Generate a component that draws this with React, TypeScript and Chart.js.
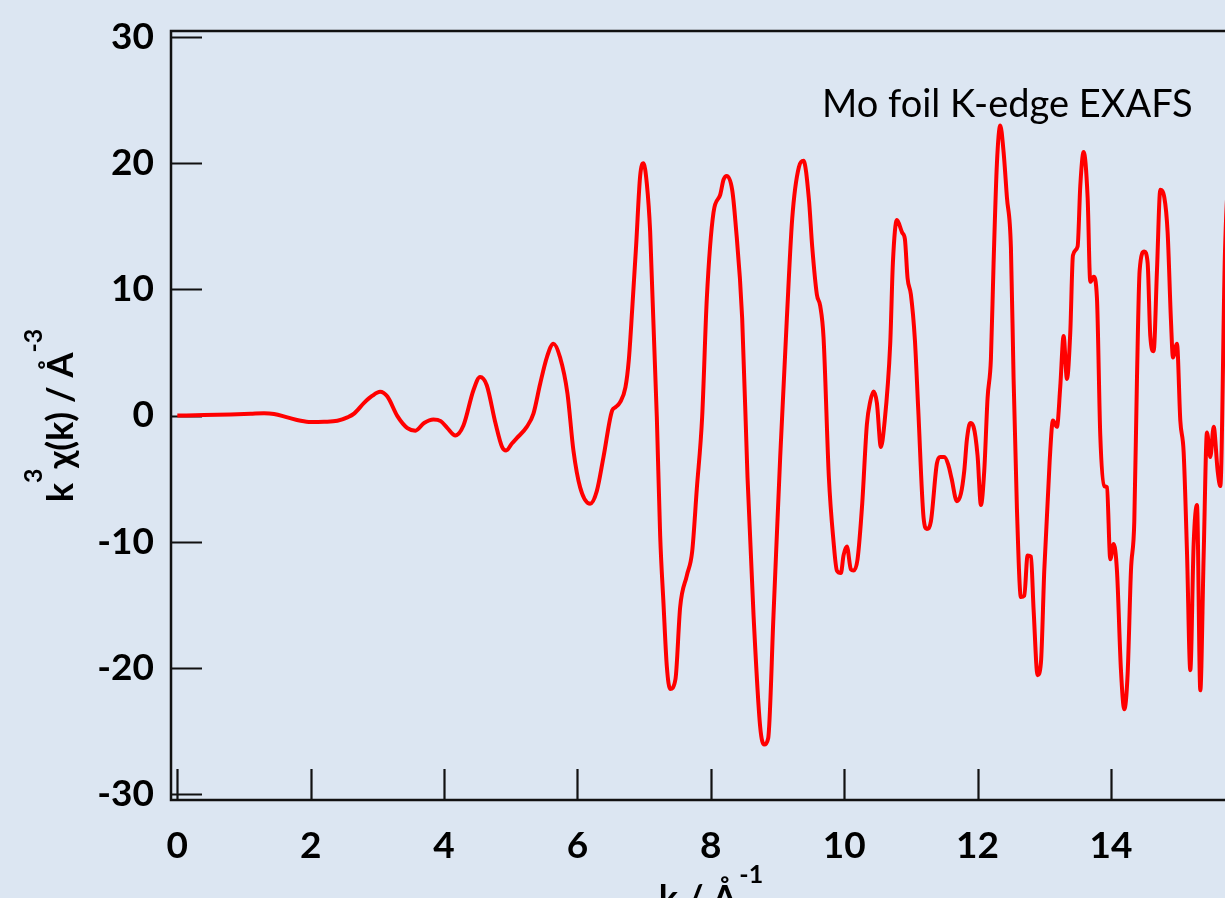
import React, { useEffect, useRef } from "react";
import { Chart, registerables } from "chart.js";

Chart.register(...registerables);

// Photoelectron wavenumber k (Å⁻¹)
const kValues = [
  0.0, 0.4, 0.8, 1.1, 1.3, 1.45, 1.65, 1.85, 2.0, 2.2, 2.4, 2.55, 2.65, 2.8, 2.92,
  3.04, 3.15, 3.3, 3.45, 3.57, 3.7, 3.84, 3.95, 4.05, 4.17, 4.29, 4.44, 4.54, 4.64,
  4.77, 4.87, 4.93, 5.02, 5.09, 5.24, 5.34, 5.44, 5.54, 5.64, 5.74, 5.85, 5.94, 6.04,
  6.19, 6.29, 6.39, 6.52, 6.57, 6.64, 6.72, 6.77, 6.82, 6.88, 6.94, 6.99, 7.04, 7.09,
  7.19, 7.24, 7.29, 7.34, 7.39, 7.47, 7.54, 7.64, 7.72, 7.79, 7.87, 7.94, 8.04, 8.14,
  8.19, 8.24, 8.32, 8.37, 8.47, 8.55, 8.64, 8.74, 8.8, 8.86, 8.94, 9.04, 9.14, 9.22,
  9.32, 9.39, 9.47, 9.52, 9.59, 9.64, 9.69, 9.77, 9.84, 9.89, 9.95, 9.99, 10.04,
  10.1, 10.14, 10.2, 10.27, 10.34, 10.39, 10.44, 10.49, 10.55, 10.6, 10.69, 10.73,
  10.79, 10.87, 10.91, 10.95, 11.0, 11.06, 11.11, 11.19, 11.24, 11.3, 11.39, 11.44,
  11.5, 11.56, 11.61, 11.69, 11.75, 11.8, 11.84, 11.89, 11.94, 12.0, 12.05, 12.1,
  12.15, 12.2, 12.24, 12.29, 12.34, 12.39, 12.44, 12.5, 12.54, 12.59, 12.65, 12.7,
  12.75, 12.8, 12.84, 12.9, 12.95, 13.0, 13.08, 13.13, 13.19, 13.24, 13.29, 13.34,
  13.39, 13.43, 13.5, 13.54, 13.59, 13.65, 13.69, 13.74, 13.79, 13.84, 13.9, 13.94,
  13.99, 14.04, 14.09, 14.15, 14.2, 14.25, 14.3, 14.35, 14.39, 14.43, 14.5, 14.55,
  14.59, 14.64, 14.69, 14.74, 14.8, 14.85, 14.9, 14.93, 14.99, 15.04, 15.09, 15.14,
  15.19, 15.24, 15.29, 15.34, 15.39, 15.44, 15.49, 15.54, 15.6, 15.64, 15.71, 15.76,
  15.82, 15.9, 15.96, 16.0,
];

// k³-weighted EXAFS oscillation k³χ(k) (Å⁻³)
const chiValues = [
  0.0, 0.03, 0.08, 0.14, 0.18, 0.12, -0.15, -0.42, -0.52, -0.5, -0.42, -0.15, 0.15,
  1.0, 1.55, 1.88, 1.5, -0.05, -1.0, -1.2, -0.6, -0.32, -0.45, -1.0, -1.58, -0.8, 2.0,
  3.05, 2.4, -0.6, -2.5, -2.78, -2.2, -1.8, -0.9, 0.15, 2.5, 4.6, 5.7, 4.6, 1.75,
  -2.8, -5.7, -7.0, -6.0, -3.3, 0.4, 0.66, 1.06, 2.25, 4.4, 8.35, 13.5, 19.0, 20.0,
  18.4, 14.6, -0.1, -9.5, -14.9, -19.9, -21.7, -20.9, -15.2, -12.7, -10.8, -5.8, -0.1,
  9.3, 16.1, 17.5, 18.7, 19.0, 17.9, 15.3, 7.7, -4.9, -15.8, -24.7, -26.1, -25.6,
  -15.8, -3.3, 7.7, 15.6, 19.7, 20.2, 17.2, 13.4, 9.6, 8.7, 6.2, -4.9, -10.0, -12.3,
  -12.5, -11.1, -10.4, -12.2, -12.3, -11.4, -7.0, -0.7, 1.1, 1.9, 1.0, -2.5, -0.8, 5.7,
  12.1, 15.5, 14.5, 14.0, 10.9, 9.6, 6.0, 0.5, -8.1, -9.0, -8.4, -3.8, -3.3, -3.3,
  -3.9, -5.0, -6.8, -6.2, -4.4, -1.9, -0.6, -0.9, -3.2, -7.1, -4.4, 1.4, 4.5, 12.1,
  20.0, 23.0, 20.9, 17.3, 13.3, 2.9, -7.4, -14.4, -14.3, -11.1, -11.2, -15.4, -20.6,
  -19.6, -12.3, -3.7, -0.4, -0.9, 2.3, 6.3, 2.9, 6.6, 12.7, 13.4, 18.2, 20.9, 17.3,
  10.6, 11.0, 9.3, -1.6, -5.6, -5.7, -11.4, -10.2, -12.3, -20.2, -23.3, -20.5, -12.3,
  -8.4, 2.9, 11.5, 13.0, 12.1, 6.3, 5.1, 11.5, 17.9, 17.3, 14.5, 7.5, 4.6, 5.7, -0.4,
  -2.9, -10.8, -20.2, -10.2, -7.1, -21.8, -11.1, -1.35, -3.3, -0.9, -4.4, -5.6, 13.0,
  18.0, 10.0, -2.0, 4.0, 6.0,
];

const xTickValues = [0, 2, 4, 6, 8, 10, 12, 14, 16];
const yTickValues = [-30, -20, -10, 0, 10, 20, 30];

const chartCaption = "Mo foil K-edge EXAFS";
const xTitleMain = "k / Å";
const xTitleSup = "-1";
const yTitleParts = [
  { text: "k", sup: false },
  { text: "3", sup: true },
  { text: "χ(k) / Å", sup: false },
  { text: "-3", sup: true },
];

const FONT = "Lato, 'Open Sans', 'DejaVu Sans', sans-serif";
const MAIN_FONT = `bold 36px ${FONT}`;
const SUP_FONT = `bold 25px ${FONT}`;

// Boxed frame plus inward-pointing tick marks, drawn under the curve.
const frameTicksPlugin = {
  id: "frameTicks",
  beforeDatasetsDraw(chart: any) {
    const { ctx, chartArea: a, scales } = chart;
    ctx.save();
    ctx.strokeStyle = "#111";
    ctx.lineWidth = 2.5;
    ctx.strokeRect(a.left, a.top, a.right - a.left, a.bottom - a.top);
    ctx.lineWidth = 2.2;
    ctx.beginPath();
    for (const v of yTickValues) {
      const y = Math.round(scales.y.getPixelForValue(v)) + 0.5;
      ctx.moveTo(a.left, y);
      ctx.lineTo(a.left + 31, y);
    }
    for (const v of xTickValues) {
      const x = Math.round(scales.x.getPixelForValue(v)) + 0.5;
      ctx.moveTo(x, a.bottom);
      ctx.lineTo(x, a.bottom - 31);
    }
    ctx.stroke();
    ctx.restore();
  },
};

// Caption and axis titles with superscripts.
const titlesPlugin = {
  id: "titles",
  afterDraw(chart: any) {
    const { ctx, chartArea: a } = chart;
    ctx.save();
    ctx.fillStyle = "#000";
    ctx.textBaseline = "alphabetic";
    ctx.textAlign = "left";

    // caption inside the plot
    ctx.font = `38px ${FONT}`;
    ctx.fillText(chartCaption, a.left + 651, a.top + 86);

    // x-axis title
    const cx = (a.left + a.right) / 2;
    ctx.font = MAIN_FONT;
    const wMain = ctx.measureText(xTitleMain).width;
    ctx.font = SUP_FONT;
    const wSup = ctx.measureText(xTitleSup).width;
    const x0 = cx - (wMain + wSup + 2) / 2;
    ctx.font = MAIN_FONT;
    ctx.fillText(xTitleMain, x0, a.bottom + 111);
    ctx.font = SUP_FONT;
    ctx.fillText(xTitleSup, x0 + wMain + 2, a.bottom + 83);

    // y-axis title, rotated
    const widths = yTitleParts.map((p) => {
      ctx.font = p.sup ? SUP_FONT : MAIN_FONT;
      return ctx.measureText(p.text).width;
    });
    const total = widths.reduce((s, w) => s + w, 0);
    const cy = (a.top + a.bottom) / 2;
    ctx.translate(73, cy);
    ctx.rotate(-Math.PI / 2);
    let u = -total / 2;
    yTitleParts.forEach((p, i) => {
      ctx.font = p.sup ? SUP_FONT : MAIN_FONT;
      ctx.fillText(p.text, u, p.sup ? -31 : 0);
      u += widths[i];
    });
    ctx.restore();
  },
};

export default function App() {
  const canvasRef = useRef<HTMLCanvasElement | null>(null);

  useEffect(() => {
    const canvas = canvasRef.current;
    if (!canvas) return;
    const points = kValues.map((k, i) => ({ x: k, y: chiValues[i] }));
    const tickFont = { family: FONT, size: 37, weight: "bold" as const };

    const chart = new Chart(canvas, {
      type: "line",
      data: {
        datasets: [
          {
            data: points,
            borderColor: "#ff0000",
            borderWidth: 4,
            pointRadius: 0,
            fill: false,
            cubicInterpolationMode: "monotone",
          },
        ],
      },
      options: {
        responsive: false,
        animation: false,
        devicePixelRatio: 1,
        layout: { padding: { top: 31, right: 49, left: 0, bottom: 0 } },
        plugins: {
          legend: { display: false },
          tooltip: { enabled: false },
          title: { display: false },
        },
        scales: {
          x: {
            type: "linear",
            min: -0.095,
            max: 16.1,
            afterBuildTicks: (s: any) => {
              s.ticks = xTickValues.map((value) => ({ value }));
            },
            afterFit: (s: any) => {
              s.height = 130;
              s.paddingLeft = 0;
              s.paddingRight = 0;
            },
            grid: { display: false, drawTicks: false },
            border: { display: false },
            ticks: {
              font: tickFont,
              color: "#000",
              padding: 24,
              maxRotation: 0,
              autoSkip: false,
            },
          },
          y: {
            type: "linear",
            min: -30.5,
            max: 30.5,
            afterBuildTicks: (s: any) => {
              s.ticks = yTickValues.map((value) => ({ value }));
            },
            afterFit: (s: any) => {
              s.width = 171;
              s.paddingTop = 0;
              s.paddingBottom = 0;
            },
            grid: { display: false, drawTicks: false },
            border: { display: false },
            ticks: {
              font: tickFont,
              color: "#000",
              padding: 17,
              autoSkip: false,
            },
          },
        },
      },
      plugins: [frameTicksPlugin, titlesPlugin],
    });

    return () => chart.destroy();
  }, []);

  return (
    <div
      style={{
        position: "fixed",
        left: 0,
        top: 0,
        width: 1225,
        height: 898,
        overflow: "hidden",
        background: "#dce6f2",
      }}
    >
      <canvas
        ref={canvasRef}
        width={1300}
        height={930}
        style={{ display: "block", width: 1300, height: 930 }}
      />
    </div>
  );
}
